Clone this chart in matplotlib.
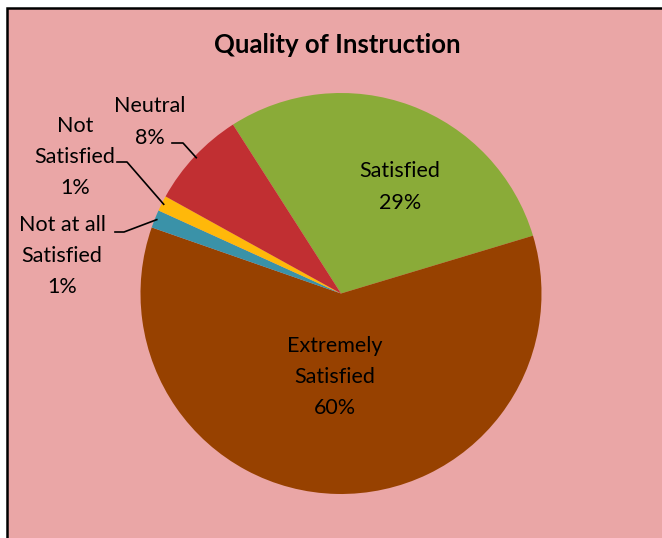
import numpy as np
import matplotlib
matplotlib.use("Agg")
import matplotlib.pyplot as plt
from matplotlib.patches import Rectangle

categories = ["Satisfied", "Extremely\nSatisfied", "Not at all\nSatisfied", "Not\nSatisfied", "Neutral"]
values = [29.4, 60.0, 1.45, 1.25, 7.9]
colors = ["#8AAB38", "#974100", "#3A92A8", "#FFB80A", "#C12F32"]

W, H = 662, 538
plt.rcParams['font.family'] = ['Lato', 'DejaVu Sans']

fig = plt.figure(figsize=(W / 100, H / 100), dpi=100)
fig.patch.set_facecolor("white")

# chart area (cropped on right/bottom in the original)
fig.add_artist(Rectangle((6.5 / W, -0.1), 1.2, 1 - 8.5 / H + 0.1, transform=fig.transFigure,
                         facecolor="#EAA6A6", edgecolor="black", linewidth=1.8, zorder=-5))

fig.text(337 / W, 1 - 45 / H, "Quality of Instruction", ha="center", va="center",
         fontsize=18.5, fontweight="bold")

cx, cy, r = 341, 293.5, 200.5
ax = fig.add_axes([(cx - r) / W, 1 - (cy + r) / H, 2 * r / W, 2 * r / H])
wedges, _ = ax.pie(values, colors=colors, startangle=122.6, counterclock=False,
                   wedgeprops=dict(linewidth=0))
ax.set_xlim(-1, 1)
ax.set_ylim(-1, 1)
ax.set_aspect("equal")
ax.axis("off")

def px(x, y):
    return (x - cx) / r, (cy - y) / r

pcts = ["%d%%" % round(v) for v in values]
fs, ls = 15.5, 1.69

# inside labels
inside = {0: (400, 187), 1: (335, 377)}
for i, (x, y) in inside.items():
    ax.text(*px(x, y), categories[i] + "\n" + pcts[i], ha="center", va="center",
            fontsize=fs, linespacing=ls)

# outside labels with leader lines
outside = {4: (150, 122, 172, 183), 3: (75, 157, 117, 127), 2: (62, 256, 115, 124)}
line_y = {4: 143, 3: 162, 2: 232}
for i, (tx, ty, x0, x1) in outside.items():
    ax.text(*px(tx, ty), categories[i] + "\n" + pcts[i], ha="center", va="center",
            fontsize=fs, linespacing=ls, clip_on=False)
    w = wedges[i]
    mid = np.deg2rad((w.theta1 + w.theta2) / 2)
    ex, ey = 0.99 * np.cos(mid), 0.99 * np.sin(mid)
    a = px(x0, line_y[i])
    b = px(x1, line_y[i])
    ax.plot([a[0], b[0], ex], [a[1], b[1], ey], color="black", lw=1.2, clip_on=False)

fig.savefig("out.png", dpi=100)
